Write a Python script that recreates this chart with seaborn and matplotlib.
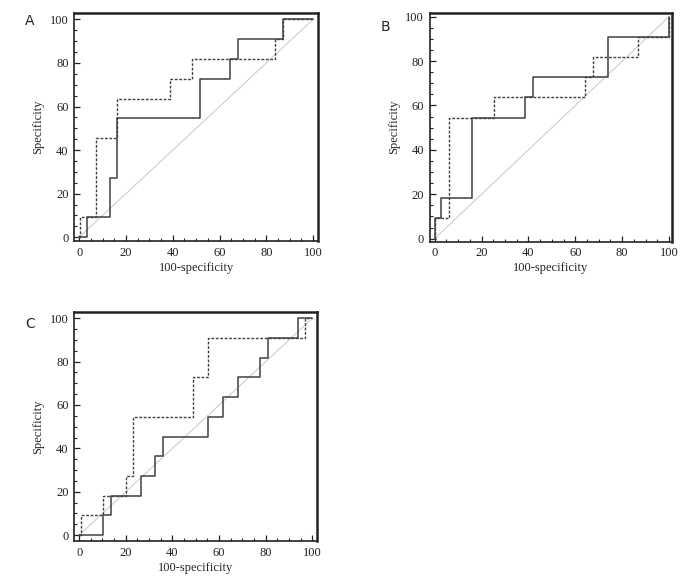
import numpy as np
import pandas as pd
import matplotlib
matplotlib.use("Agg")
import matplotlib.pyplot as plt
from matplotlib.ticker import MultipleLocator
import seaborn as sns

# ROC corner points (100-specificity, sensitivity)
a_solid_x = [0, 3.4, 13.1, 16.3, 51.7, 64.6, 67.9, 87.1, 100]
a_solid_y = [0, 9.09, 27.27, 54.55, 72.73, 81.82, 90.91, 100, 100]
a_dash_x = [0, 0.5, 7.0, 16.3, 38.9, 48.4, 83.9, 87.1, 100]
a_dash_y = [0, 9.09, 45.45, 63.64, 72.73, 81.82, 90.91, 100, 100]

b_solid_x = [0, 0, 2.85, 15.8, 38.6, 41.9, 73.9, 100, 100]
b_solid_y = [0, 9.09, 18.18, 54.55, 63.64, 72.73, 90.91, 100, 100]
b_dash_x = [0, 0, 6.3, 25.5, 64.2, 67.5, 86.8, 100, 100]
b_dash_y = [0, 9.09, 54.55, 63.64, 72.73, 81.82, 90.91, 100, 100]

c_solid_x = [0, 10.3, 13.5, 26.4, 32.7, 36.0, 55.3, 61.6, 68.1, 77.5, 80.9, 93.6, 100]
c_solid_y = [0, 9.09, 18.18, 27.27, 36.36, 45.45, 54.55, 63.64, 72.73, 81.82, 90.91, 100, 100]
c_dash_x = [0, 0.7, 10.3, 19.9, 23.1, 48.7, 55.3, 96.8, 100]
c_dash_y = [0, 9.09, 18.18, 27.27, 54.55, 72.73, 90.91, 100, 100]

ticks = [0, 20, 40, 60, 80, 100]

sns.set_style("ticks")
plt.rcParams['font.family'] = ['Liberation Serif', 'DejaVu Serif']

fig = plt.figure(figsize=(6.81, 5.77), dpi=100)

panels = [
    ("A", [0.109, 0.582, 0.358, 0.395], (-2.1, 102.1), (-1.8, 102.8), 0.0,
     a_solid_x, a_solid_y, a_dash_x, a_dash_y),
    ("B", [0.631, 0.581, 0.356, 0.397], (-2.1, 101.3), (-1.4, 101.8), 0.010,
     b_solid_x, b_solid_y, b_dash_x, b_dash_y),
    ("C", [0.109, 0.062, 0.357, 0.397], (-2.1, 102.1), (-2.8, 102.8), 0.007,
     c_solid_x, c_solid_y, c_dash_x, c_dash_y),
]

for letter, rect, xlim, ylim, ldrop, sx, sy, dx, dy in panels:
    ax = fig.add_axes(rect)
    # reference diagonal
    ax.plot([0, 100], [0, 100], color="#c8c8c8", lw=0.7, zorder=1)
    sns.lineplot(x=sx, y=sy, ax=ax, sort=False, estimator=None,
                 drawstyle="steps-post", color="#404040", lw=1.1)
    sns.lineplot(x=dx, y=dy, ax=ax, sort=False, estimator=None,
                 drawstyle="steps-post", color="#404040", lw=1.0,
                 linestyle=(0, (2, 1.2)))
    ax.set_xlim(*xlim)
    ax.set_ylim(*ylim)
    ax.set_xticks(ticks)
    ax.set_yticks(ticks)
    ax.xaxis.set_minor_locator(MultipleLocator(5))
    ax.yaxis.set_minor_locator(MultipleLocator(5))
    ax.tick_params(which="major", direction="in", length=4, width=0.9,
                   labelsize=9, pad=4, colors="#222222")
    ax.tick_params(which="minor", direction="in", length=2.5, width=0.8,
                   colors="#222222")
    for side in ["top", "right"]:
        ax.spines[side].set_linewidth(1.8)
    for side in ["left", "bottom"]:
        ax.spines[side].set_linewidth(1.2)
    for s in ax.spines.values():
        s.set_color("#222222")
    ax.set_xlabel("100-specificity", fontsize=9, labelpad=2)
    ax.set_ylabel("Specificity", fontsize=9, labelpad=4)
    bb = ax.get_position()
    fig.text(bb.x0 - 0.072, bb.y1 - 0.002 - ldrop, letter, fontsize=10,
             family="DejaVu Sans", va="top", ha="left")

fig.savefig("out.png", dpi=100)
